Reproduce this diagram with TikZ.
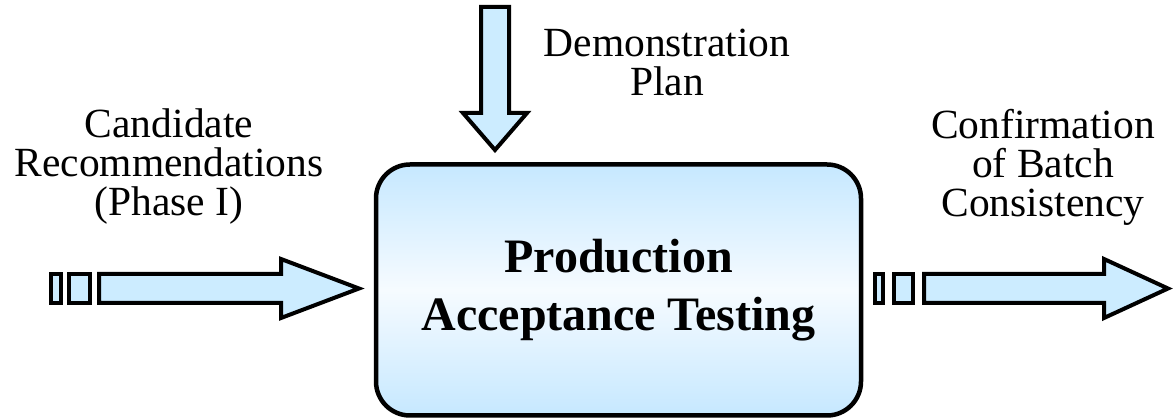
\documentclass[tikz,border=0pt]{standalone}
\usepackage{fontspec}
\setmainfont{Liberation Serif}
\definecolor{arrowfill}{RGB}{204,236,255}
\definecolor{boxedge}{RGB}{198,232,255}
\definecolor{boxmid}{RGB}{246,251,255}
\begin{document}
\begin{tikzpicture}[x=1pt,y=-1pt,
  blockarrow/.style={draw=black,fill=arrowfill,line width=4pt,line join=miter},
  label/.style={align=center,font=\fontsize{41.5}{39}\selectfont,inner sep=0pt},
  process/.style={draw=black,line width=4.5pt,rounded corners=34pt,
    minimum width=485pt,minimum height=251pt,
    top color=boxedge,bottom color=boxedge,middle color=boxmid,
    align=center,font=\bfseries\fontsize{48}{58}\selectfont}]
\useasboundingbox (0,0) rectangle (1176,419);

% central process box
\node[process] (pat) at (618.5,290) {Production\\Acceptance Testing};

% incoming arrow from above
\draw[blockarrow] (481,7) -- (509,7) -- (509,113) -- (527,113) -- (495,150)
  -- (463,113) -- (481,113) -- cycle;

% striped input arrow on the left
\draw[blockarrow] (51,274) rectangle (61,303);
\draw[blockarrow] (69,274) rectangle (90,303);
\draw[blockarrow] (99,274) -- (281,274) -- (281,259) -- (359,288.5)
  -- (281,318) -- (281,303) -- (99,303) -- cycle;

% striped output arrow on the right
\draw[blockarrow] (875,274) rectangle (883,303);
\draw[blockarrow] (894,274) rectangle (913,303);
\draw[blockarrow] (924,274) -- (1104,274) -- (1104,259) -- (1168,288.5)
  -- (1104,318) -- (1104,303) -- (924,303) -- cycle;

% labels
\node[label] (cand) at (169,167) {Candidate\\Recommendations\\(Phase I)};
\node[label] (demo) at (667,62) {Demonstration\\Plan};
\node[label] (conf) at (1043,167) {Confirmation\\of Batch\\Consistency};
\end{tikzpicture}
\end{document}
